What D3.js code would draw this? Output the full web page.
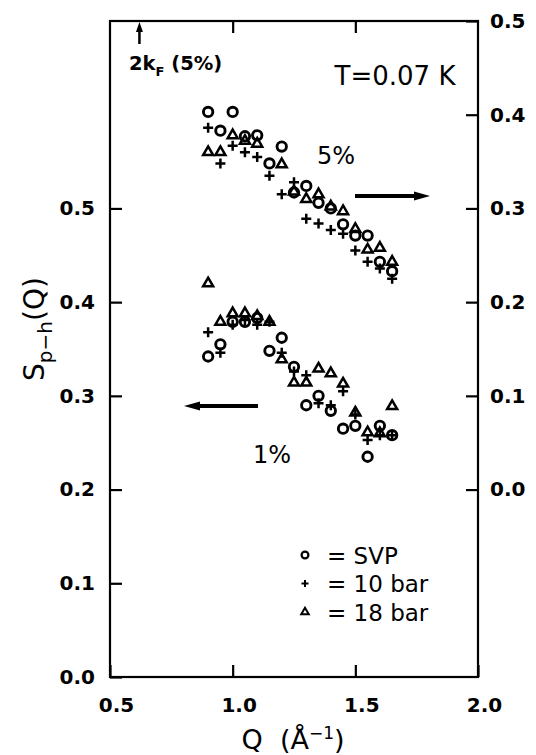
<!DOCTYPE html>
<html>
<head>
<meta charset="utf-8">
<script src="https://cdn.jsdelivr.net/npm/d3@7"></script>
<style>
  html, body { margin: 0; padding: 0; background: #fff; }
  svg { display: block; }
  text { font-family: "DejaVu Sans", sans-serif; fill: #000; }
</style>
</head>
<body>
<svg id="chart" width="536" height="755"></svg>
<script>
// Momentum transfer values (Å^-1)
const qValues = [0.90, 0.95, 1.00, 1.05, 1.10, 1.15, 1.20, 1.25, 1.30, 1.35, 1.40, 1.45, 1.50, 1.55, 1.60, 1.65];

// 5% mixture, read on the right-hand axis
const svp5   = [0.403, 0.383, 0.403, 0.377, 0.378, 0.348, 0.366, 0.317, 0.324, 0.306, 0.300, 0.283, 0.271, 0.271, 0.243, 0.233];
const bar10_5 = [0.386, 0.348, 0.367, 0.360, 0.355, 0.335, 0.315, 0.328, 0.289, 0.284, 0.277, 0.273, 0.255, 0.243, 0.236, 0.225];
const bar18_5 = [0.360, 0.360, 0.378, 0.372, 0.369, null, 0.347, 0.318, 0.310, 0.315, 0.302, 0.297, 0.278, 0.256, 0.258, 0.243];

// 1% mixture, read on the left-hand axis
const svp1   = [0.342, 0.355, 0.379, 0.379, 0.383, 0.348, 0.362, 0.331, 0.290, 0.300, 0.284, 0.265, 0.268, 0.235, 0.268, 0.258];
const bar10_1 = [0.368, 0.346, 0.376, 0.381, 0.376, 0.379, 0.346, 0.326, 0.322, 0.292, 0.290, 0.305, 0.280, 0.253, 0.258, 0.258];
const bar18_1 = [0.420, 0.379, 0.388, 0.388, 0.385, 0.379, 0.339, 0.314, 0.314, 0.329, 0.324, 0.313, 0.282, 0.261, 0.260, 0.289];

// Axis ticks
const xTicks = [0.5, 1.0, 1.5, 2.0];
const leftTicks = [0.0, 0.1, 0.2, 0.3, 0.4, 0.5];
const rightTicks = [0.0, 0.1, 0.2, 0.3, 0.4, 0.5];
const kF2 = 0.62; // position of 2k_F for the 5% mixture

const svg = d3.select("#chart");
const L = 110, R = 478, T = 21, B = 677;

const x = d3.scaleLinear().domain([0.5, 2.0]).range([L, R]);
const yLeft = d3.scaleLinear().domain([0.0, 0.7]).range([B, T]);
const yRight = d3.scaleLinear().domain([-0.2, 0.5]).range([B, T]);

const fmt = d3.format(".1f");

// Frame
svg.append("rect")
  .attr("x", L).attr("y", T).attr("width", R - L).attr("height", B - T)
  .attr("fill", "none").attr("stroke", "#000").attr("stroke-width", 2.2);

function styleAxis(g) {
  g.select(".domain").remove();
  g.selectAll(".tick line").attr("stroke", "#000").attr("stroke-width", 2.2);
  g.selectAll(".tick text")
    .attr("font-family", "DejaVu Sans, sans-serif")
    .attr("font-weight", "bold")
    .attr("font-size", 20)
    .attr("fill", "#000");
}

// Bottom axis
svg.append("g").attr("transform", `translate(0,${B})`)
  .call(d3.axisBottom(x).tickValues(xTicks).tickFormat(fmt).tickSizeInner(-12).tickSizeOuter(0).tickPadding(21))
  .call(styleAxis)
  .call(g => g.selectAll(".tick text").attr("dx", 6));

// Top axis (ticks only)
svg.append("g").attr("transform", `translate(0,${T})`)
  .call(d3.axisTop(x).tickValues([1.0, 1.5]).tickFormat("").tickSizeInner(-12).tickSizeOuter(0))
  .call(styleAxis);

// Left axis
svg.append("g").attr("transform", `translate(${L},0)`)
  .call(d3.axisLeft(yLeft).tickValues(leftTicks).tickFormat(fmt).tickSizeInner(-12).tickSizeOuter(0).tickPadding(15))
  .call(styleAxis);

// Right axis
svg.append("g").attr("transform", `translate(${R},0)`)
  .call(d3.axisRight(yRight).tickValues(rightTicks).tickFormat(fmt).tickSizeInner(-12).tickSizeOuter(0).tickPadding(12))
  .call(styleAxis);

// Axis titles
const xt = svg.append("text")
  .attr("x", 293).attr("y", 749)
  .attr("text-anchor", "middle")
  .attr("font-size", 27);
xt.append("tspan").text("Q\u00a0\u00a0(Å");
xt.append("tspan").attr("dy", -10).attr("font-size", 17).text("−1");
xt.append("tspan").attr("dy", 10).text(")");

const yt = svg.append("text")
  .attr("transform", "translate(44,329) rotate(-90)")
  .attr("text-anchor", "middle")
  .attr("font-size", 28);
yt.append("tspan").text("S");
yt.append("tspan").attr("dy", 8).attr("font-size", 20).text("p−h");
yt.append("tspan").attr("dy", -8).text("(Q)");

// Marker drawing
function circleMark(g, cx, cy, r, sw) {
  g.append("circle").attr("cx", cx).attr("cy", cy).attr("r", r)
    .attr("fill", "none").attr("stroke", "#000").attr("stroke-width", sw);
}
function plusMark(g, cx, cy, h, sw) {
  g.append("path").attr("d", `M${cx - h},${cy}H${cx + h}M${cx},${cy - h}V${cy + h}`)
    .attr("fill", "none").attr("stroke", "#000").attr("stroke-width", sw);
}
function triMark(g, cx, cy, s, sw) {
  const h = s * Math.sqrt(3) / 2;
  g.append("path")
    .attr("d", `M${cx},${cy - h * 2 / 3}L${cx + s / 2},${cy + h / 3}L${cx - s / 2},${cy + h / 3}Z`)
    .attr("fill", "none").attr("stroke", "#000").attr("stroke-width", sw).attr("stroke-linejoin", "miter");
}

const marks = svg.append("g");
function plotSeries(vals, yScale, kind) {
  vals.forEach((v, i) => {
    if (v === null) return;
    const cx = x(qValues[i]), cy = yScale(v);
    if (kind === "circle") circleMark(marks, cx, cy, 4.7, 2.9);
    else if (kind === "plus") plusMark(marks, cx, cy, 5, 2.5);
    else triMark(marks, cx, cy, 10, 2.5);
  });
}
plotSeries(svp5, yRight, "circle");
plotSeries(bar10_5, yRight, "plus");
plotSeries(bar18_5, yRight, "tri");
plotSeries(svp1, yLeft, "circle");
plotSeries(bar10_1, yLeft, "plus");
plotSeries(bar18_1, yLeft, "tri");

// Arrows pointing to the relevant axis
function arrow(x1, y, x2) {
  const dir = Math.sign(x2 - x1);
  const headLen = 16, headHalf = 4.5;
  svg.append("line").attr("x1", x1).attr("y1", y).attr("x2", x2 - dir * headLen * 0.7).attr("y2", y)
    .attr("stroke", "#000").attr("stroke-width", 3.8);
  svg.append("path")
    .attr("d", `M${x2},${y}L${x2 - dir * headLen},${y - headHalf}L${x2 - dir * headLen},${y + headHalf}Z`)
    .attr("fill", "#000");
}
arrow(355, 196, 430);
arrow(258, 406, 184);

// Group labels
svg.append("text").attr("x", 336).attr("y", 164).attr("text-anchor", "middle").attr("font-size", 24).text("5%");
svg.append("text").attr("x", 272).attr("y", 463).attr("text-anchor", "middle").attr("font-size", 24).text("1%");
svg.append("text").attr("x", 395).attr("y", 85).attr("text-anchor", "middle").attr("font-size", 26).text("T=0.07 K");

// 2k_F marker on the top axis
const kx = x(kF2);
svg.append("line").attr("x1", kx).attr("y1", 44).attr("x2", kx).attr("y2", 30)
  .attr("stroke", "#000").attr("stroke-width", 2.5);
svg.append("path").attr("d", `M${kx},${T + 1}L${kx - 3.5},${T + 11}L${kx + 3.5},${T + 11}Z`).attr("fill", "#000");
const kt = svg.append("text").attr("x", 129).attr("y", 70).attr("font-size", 19.5).attr("font-weight", "bold");
kt.append("tspan").text("2k");
kt.append("tspan").attr("dy", 6).attr("font-size", 13).text("F");
kt.append("tspan").attr("dy", -6).text(" (5%)");

// Legend
const legend = [
  { kind: "circle", label: "= SVP" },
  { kind: "plus", label: "= 10 bar" },
  { kind: "tri", label: "= 18 bar" }
];
const lg = svg.append("g");
legend.forEach((d, i) => {
  const cy = 555 + i * 28.5;
  if (d.kind === "circle") circleMark(lg, 305, cy, 3.4, 2.2);
  else if (d.kind === "plus") plusMark(lg, 305, cy, 3.5, 2);
  else triMark(lg, 305, cy, 7.5, 2);
  lg.append("text").attr("x", 327).attr("y", cy + 8.5).attr("font-size", 23).text(d.label);
});
</script>
</body>
</html>
